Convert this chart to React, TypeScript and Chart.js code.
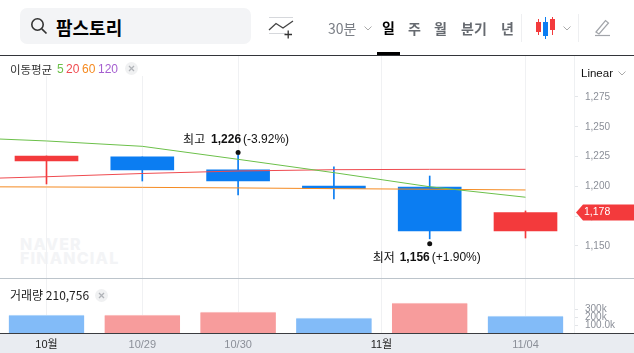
import React, { useEffect, useRef } from "react";
import { Chart, registerables } from "chart.js";

Chart.register(...registerables);

const candleIndex = [0, 1, 2, 3, 4, 5];
const opens = [1221.3, 1224.7, 1213.8, 1200.3, 1199.5, 1162.6];
const closes = [1225.5, 1213.8, 1204.5, 1198.2, 1162.6, 1178];
const highs = [1225.5, 1224.7, 1226, 1216.3, 1208.7, 1179.4];
const lows = [1202, 1204.5, 1192.8, 1189.4, 1156, 1156.7];
const volumes = [225000, 225000, 262000, 188000, 375000, 210756];
const volumeRising = [false, true, true, false, true, false];
const maIndex = [-1, 0, 1, 2, 3, 4, 5];
const ma5 = [1241.4, 1238.1, 1233.6, 1222.7, 1211.5, 1199.7, 1190.9];
const ma20 = [1205.8, 1208.1, 1210.8, 1212.9, 1214, 1214.3, 1214.3];
const ma60 = [1199.7, 1199.5, 1199.2, 1198.7, 1198.1, 1197.6, 1197];
const xTickValues = [0, 1, 2, 3.496, 5];
const xTickLabels = ["10월", "10/29", "10/30", "11월", "11/04"];
const priceTicks = [1150, 1175, 1200, 1225, 1250, 1275];
const volumeTicks = [100000, 200000, 300000];
const volumeTickLabels = ["100.0k", "200k", "300k"];
const lastPrice = 1178;
const lastPriceLabel = "1,178";
const highAnn = { i: 2, v: 1226, name: "최고", val: "1,226", pct: "(-3.92%)" };
const lowAnn = { i: 4, v: 1156, name: "최저", val: "1,156", pct: "(+1.90%)" };

const BLUE = "#0b7df2";
const RED = "#f33a3c";
const FONT = '"Liberation Sans", "Noto Sans CJK KR", sans-serif';
const KFONT = '"Noto Sans CJK KR", "Liberation Sans", sans-serif';

const overlayPlugin = {
  id: "overlay",
  afterDatasetsDraw(chart: any) {
    const { ctx, scales } = chart;
    const x = scales.x;
    const y = scales.y;
    ctx.save();
    ctx.textBaseline = "middle";
    ctx.fillStyle = "#111";
    const hx = x.getPixelForValue(highAnn.i);
    const hy = y.getPixelForValue(highAnn.v);
    ctx.beginPath();
    ctx.arc(hx, hy - 3, 2.5, 0, Math.PI * 2);
    ctx.fill();
    ctx.textAlign = "left";
    ctx.font = `12px ${KFONT}`;
    ctx.fillText(highAnn.name, hx - 55, hy - 16);
    ctx.font = `bold 12px ${FONT}`;
    ctx.fillText(highAnn.val, hx - 27, hy - 16);
    ctx.font = `12px ${FONT}`;
    ctx.fillText(highAnn.pct, hx + 5, hy - 16);

    const lx = x.getPixelForValue(lowAnn.i);
    const ly = y.getPixelForValue(lowAnn.v);
    ctx.beginPath();
    ctx.arc(lx, ly + 5, 2.5, 0, Math.PI * 2);
    ctx.fill();
    ctx.font = `12px ${KFONT}`;
    ctx.fillText(lowAnn.name, lx - 57, ly + 19);
    ctx.font = `bold 12px ${FONT}`;
    ctx.fillText(lowAnn.val, lx - 30, ly + 19);
    ctx.font = `12px ${FONT}`;
    ctx.fillText(lowAnn.pct, lx + 2, ly + 19);

    const py = y.getPixelForValue(lastPrice);
    ctx.fillStyle = RED;
    ctx.beginPath();
    ctx.moveTo(576, py);
    ctx.lineTo(583, py - 8);
    ctx.lineTo(634, py - 8);
    ctx.lineTo(634, py + 8);
    ctx.lineTo(583, py + 8);
    ctx.closePath();
    ctx.fill();
    ctx.fillStyle = "#fff";
    ctx.font = `10.5px ${FONT}`;
    ctx.fillText(lastPriceLabel, 584, py);
    ctx.restore();
  },
};

function Chevron({ x, y, color = "#aaa" }: { x: number; y: number; color?: string }) {
  return (
    <svg style={{ position: "absolute", left: x, top: y }} width="8" height="5">
      <path d="M0.5 0.5 L4 4 L7.5 0.5" fill="none" stroke={color} strokeWidth="1" />
    </svg>
  );
}

function Txt(props: { x: number; cy: number; size: number; color: string; bold?: boolean; font?: string; children: React.ReactNode; spacing?: number }) {
  return (
    <div
      style={{
        position: "absolute",
        left: props.x,
        top: props.cy - 10,
        height: 20,
        lineHeight: "20px",
        fontSize: props.size,
        color: props.color,
        fontWeight: props.bold ? 700 : 400,
        fontFamily: props.font || KFONT,
        letterSpacing: props.spacing || 0,
        whiteSpace: "nowrap",
      }}
    >
      {props.children}
    </div>
  );
}

function CloseBtn({ x, y }: { x: number; y: number }) {
  return (
    <svg style={{ position: "absolute", left: x, top: y }} width="13" height="13">
      <circle cx="6.5" cy="6.5" r="6.5" fill="#f0f1f2" />
      <path d="M4 4 L9 9 M9 4 L4 9" stroke="#b0b3b8" strokeWidth="1.3" />
    </svg>
  );
}

export default function App() {
  const ref = useRef<HTMLCanvasElement>(null);

  useEffect(() => {
    const bodies = candleIndex.map((i) => ({ x: i, y: [opens[i], closes[i]] }));
    const wicks = candleIndex.map((i) => ({ x: i, y: [lows[i], highs[i]] }));
    const colors = candleIndex.map((i) => (closes[i] >= opens[i] ? RED : BLUE));
    const volColors = volumeRising.map((r) => (r ? "#f79c9c" : "#82bbf8"));
    const volTop = volumeRising.map((r) => (r ? "#fbc9c9" : "#bcdcfb"));
    const line = (data: number[], color: string) => ({
      type: "line" as const,
      data: maIndex.map((v, i) => ({ x: v, y: data[i] })),
      borderColor: color,
      borderWidth: 1,
      pointRadius: 0,
      tension: 0,
      yAxisID: "y",
      order: 0,
    });
    const chart = new Chart(ref.current!, {
      type: "bar",
      data: {
        datasets: [
          line(ma5, "#6cc04a"),
          line(ma20, "#ef4b50"),
          line(ma60, "#f58a20"),
          { data: bodies as any, backgroundColor: colors, barThickness: 63, grouped: false, yAxisID: "y", order: 1, borderSkipped: false } as any,
          { data: wicks as any, backgroundColor: colors, barThickness: 1, grouped: false, yAxisID: "y", order: 2, borderSkipped: false } as any,
          {
            data: candleIndex.map((i) => ({ x: i, y: volumes[i] })) as any,
            backgroundColor: volColors,
            borderColor: volTop,
            borderWidth: { top: 1, left: 0, right: 0, bottom: 0 },
            barThickness: 75.5,
            grouped: false,
            yAxisID: "v",
            order: 3,
            borderSkipped: false,
          } as any,
        ],
      },
      options: {
        animation: false,
        responsive: false,
        layout: { padding: { top: 55, left: 0, right: 0, bottom: 0 } },
        plugins: { legend: { display: false }, tooltip: { enabled: false } },
        scales: {
          x: {
            type: "linear",
            offset: false,
            min: -46.5 / 95.8,
            max: (574 - 46.5) / 95.8,
            afterBuildTicks(s: any) {
              s.ticks = xTickValues.map((value) => ({ value }));
            },
            afterFit(s: any) {
              s.height = 20;
            },
            grid: { color: "#f0f1f3", drawTicks: false, offset: false },
            border: { display: false },
            ticks: {
              autoSkip: false,
              maxRotation: 0,
              padding: 5,
              font: { size: 11, family: FONT },
              color: (c: any) => (String(xTickLabels[c.index]).includes("월") ? "#222" : "#8b8f98"),
              callback: (_v: any, i: number) => xTickLabels[i],
            },
          },
          y: {
            position: "right",
            stack: "panels",
            stackWeight: 223,
            min: 1123.15,
            max: 1310.2,
            afterBuildTicks(s: any) {
              s.ticks = priceTicks.map((value) => ({ value }));
            },
            afterFit(s: any) {
              s.width = 60;
            },
            grid: { drawOnChartArea: false, tickLength: 4, color: "#e3e5e8" },
            border: { color: "#eef0f2" },
            ticks: {
              autoSkip: false,
              padding: 7,
              font: { size: 10, family: FONT },
              color: "#8b8f98",
              callback: (v: any) => Number(v).toLocaleString("en-US"),
            },
          },
          v: {
            position: "right",
            stack: "panels",
            stackWeight: 55,
            min: 0,
            max: 687500,
            afterBuildTicks(s: any) {
              s.ticks = volumeTicks.map((value) => ({ value }));
            },
            afterFit(s: any) {
              s.width = 60;
            },
            grid: { drawOnChartArea: false, tickLength: 4, color: "#e3e5e8" },
            border: { color: "#eef0f2" },
            ticks: {
              autoSkip: false,
              padding: 7,
              font: { size: 10, family: FONT },
              color: "#8b8f98",
              callback: (_v: any, i: number) => volumeTickLabels[i],
            },
          },
        },
      },
      plugins: [overlayPlugin],
    } as any);
    return () => chart.destroy();
  }, []);

  return (
    <div style={{ position: "absolute", left: 0, top: 0, width: 634, height: 353, overflow: "hidden", background: "#fff" }}>
      {/* watermark */}
      <div style={{ position: "absolute", left: 20, top: 237, fontFamily: '"Inter", sans-serif', fontWeight: 800, fontSize: 16, lineHeight: "14px", color: "#f3f4f6", letterSpacing: 1.2 }}>
        NAVER
        <br />
        FINANCIAL
      </div>
      {/* axis band */}
      <div style={{ position: "absolute", left: 0, top: 333, width: 634, height: 20, background: "#e9ecf1" }} />
      <canvas ref={ref} width={634} height={353} style={{ position: "absolute", left: 0, top: 0, display: "block" }} />
      <div style={{ position: "absolute", left: 0, top: 333, width: 634, height: 1, background: "#3a3c40" }} />
      <div style={{ position: "absolute", left: 0, top: 278, width: 634, height: 1, background: "#bcc4cb" }} />
      <div style={{ position: "absolute", left: 0, top: 55, width: 634, height: 1, background: "#33353a" }} />
      <div style={{ position: "absolute", left: 377, top: 52, width: 23, height: 3, background: "#000" }} />

      {/* search */}
      <div style={{ position: "absolute", left: 20, top: 8, width: 231, height: 36, background: "#f3f4f6", borderRadius: 7 }} />
      <svg style={{ position: "absolute", left: 30, top: 17 }} width="18" height="18">
        <circle cx="7.5" cy="7.5" r="5.7" fill="none" stroke="#333" strokeWidth="1.6" />
        <path d="M11.8 11.8 L16.5 16.5" stroke="#333" strokeWidth="1.7" />
      </svg>
      <Txt x={56} cy={27} size={18} color="#000" bold>팜스토리</Txt>

      {/* line tool icon */}
      <svg style={{ position: "absolute", left: 268, top: 16 }} width="27" height="24">
        <path d="M1 1.5 H25 M1 17.5 H18" stroke="#d6d8dc" strokeWidth="1" fill="none" />
        <path d="M1 14 L8 7.5 L15 12 L25 5" stroke="#444" strokeWidth="1.3" fill="none" />
        <path d="M16.5 18.5 H24 M20.2 14.5 V22.5" stroke="#333" strokeWidth="1.3" fill="none" />
      </svg>

      {/* period tabs */}
      <Txt x={328} cy={28} size={14} color="#7b7f86">30분</Txt>
      <Chevron x={364} y={26} />
      <Txt x={382} cy={27} size={14} color="#000" bold>일</Txt>
      <Txt x={408} cy={28} size={14} color="#666a70" bold>주</Txt>
      <Txt x={434} cy={28} size={14} color="#666a70" bold>월</Txt>
      <Txt x={461} cy={28} size={14} color="#666a70" bold>분기</Txt>
      <Txt x={501} cy={28} size={14} color="#666a70" bold>년</Txt>
      <div style={{ position: "absolute", left: 521, top: 14, width: 1, height: 28, background: "#eeeff1" }} />
      <svg style={{ position: "absolute", left: 534, top: 16 }} width="24" height="24">
        <path d="M4.5 3 V19 M18.5 1 V19" stroke={RED} strokeWidth="1" />
        <path d="M11.5 1 V23" stroke={BLUE} strokeWidth="1" />
        <rect x="2" y="6" width="5" height="10" fill={RED} />
        <rect x="9" y="6" width="5" height="14" fill={BLUE} />
        <rect x="16" y="3" width="5" height="11" fill={RED} />
      </svg>
      <Chevron x={563} y={26} />
      <div style={{ position: "absolute", left: 578, top: 14, width: 1, height: 28, background: "#eeeff1" }} />
      <svg style={{ position: "absolute", left: 594, top: 18 }} width="18" height="19">
        <path d="M2 14 L11.5 2.5 L14.5 5 L5 16 Z" fill="none" stroke="#a2a5aa" strokeWidth="1.2" />
        <path d="M1 17.5 H16" stroke="#a2a5aa" strokeWidth="1.2" />
      </svg>

      {/* scale */}
      <Txt x={581} cy={73} size={11.5} color="#111" font={FONT}>Linear</Txt>
      <Chevron x={618} y={71} />

      {/* MA legend */}
      <div style={{ position: "absolute", left: 0, top: 56, width: 144, height: 20, background: "#fff" }} />
      <Txt x={10} cy={69} size={11.5} color="#333" spacing={-0.1}>이동평균</Txt>
      <Txt x={57} cy={69} size={12} color="#6cc04a" font={FONT}>5</Txt>
      <Txt x={66} cy={69} size={12} color="#ef4b50" font={FONT}>20</Txt>
      <Txt x={82} cy={69} size={12} color="#f58a20" font={FONT}>60</Txt>
      <Txt x={98} cy={69} size={12} color="#a55fd0" font={FONT}>120</Txt>
      <CloseBtn x={125} y={62} />

      {/* volume legend */}
      <Txt x={10} cy={295} size={12} color="#222">거래량 210,756</Txt>
      <CloseBtn x={95} y={289} />
    </div>
  );
}
